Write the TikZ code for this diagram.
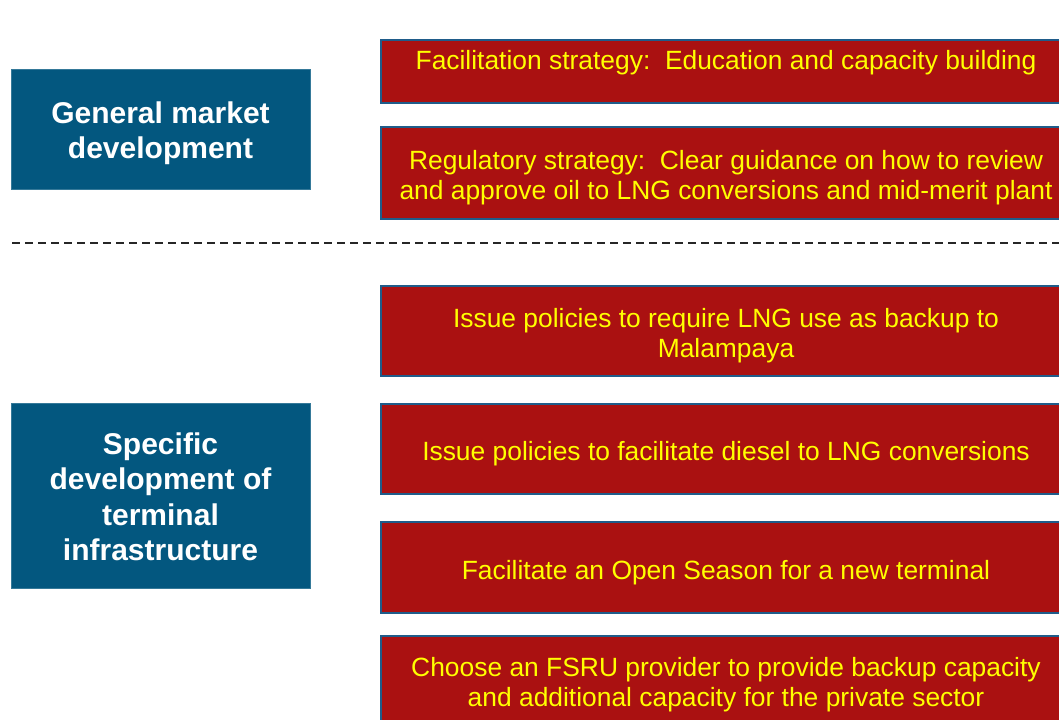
\documentclass[tikz,border=0pt]{standalone}
\usepackage{fontspec}
\setmainfont{Liberation Sans}
\definecolor{deepblue}{HTML}{03577F}
\definecolor{brick}{HTML}{AA1111}
\definecolor{edgeblue}{HTML}{1F5C8A}
\definecolor{textyellow}{HTML}{FFFF00}
\tikzset{
	areabox/.style={rectangle, fill=deepblue, draw=deepblue!80!white, line width=0.4pt,
		minimum width=224.25pt, inner sep=0pt},
	areatext/.style={text=white, font=\fontsize{22.5}{26.5}\selectfont\bfseries, align=center, inner sep=0pt},
	actionbox/.style={rectangle, fill=brick, draw=edgeblue, line width=1.2pt,
		minimum width=517.5pt, inner sep=0pt},
	actiontext/.style={text=textyellow, font=\fontsize{19.8}{22.5}\selectfont, align=center, inner sep=0pt},
}
\begin{document}
\begin{tikzpicture}[x=0.75pt, y=-0.75pt]
	\useasboundingbox (0,0) rectangle (1059,720);
	% left-hand areas
	\node (G) at (160.5, 129)	[areabox, minimum height=90pt,
		label={[areatext, yshift=-3pt]center:{General market\\development}}] {};
	\node (S) at (160.5, 495.5)	[areabox, minimum height=138.75pt,
		label={[areatext, yshift=-1pt]center:{Specific\\development of\\terminal\\infrastructure}}] {};
	% actions
	\node (A1) at (726, 71.5)	[actionbox, minimum height=47.25pt,
		label={[actiontext, yshift=6.4pt]center:{Facilitation strategy:~~Education and capacity building}}] {};
	\node (A2) at (726, 173)	[actionbox, minimum height=69pt,
		label={[actiontext, yshift=-3.75pt]center:{Regulatory strategy:~~Clear guidance on how to review\\and approve oil to LNG conversions and mid-merit plant}}] {};
	\node (A3) at (726, 331)	[actionbox, minimum height=67.5pt,
		label={[actiontext, yshift=-3.75pt]center:{Issue policies to require LNG use as backup to\\Malampaya}}] {};
	\node (A4) at (726, 449)	[actionbox, minimum height=67.5pt,
		label={[actiontext, yshift=-3.75pt]center:{Issue policies to facilitate diesel to LNG conversions}}] {};
	\node (A5) at (726, 567.5)	[actionbox, minimum height=68.25pt,
		label={[actiontext, yshift=-3.75pt]center:{Facilitate an Open Season for a new terminal}}] {};
	\node (A6) at (726, 682)	[actionbox, minimum height=69pt,
		label={[actiontext, yshift=-2.25pt]center:{Choose an FSRU provider to provide backup capacity\\and additional capacity for the private sector}}] {};
	% separator
	\coordinate (sepL) at (12, 243);
	\coordinate (sepR) at (1059, 243);
	\draw[black!85, line width=1.1pt, dash pattern=on 6pt off 3.75pt] (sepL) -- (sepR);
\end{tikzpicture}
\end{document}
